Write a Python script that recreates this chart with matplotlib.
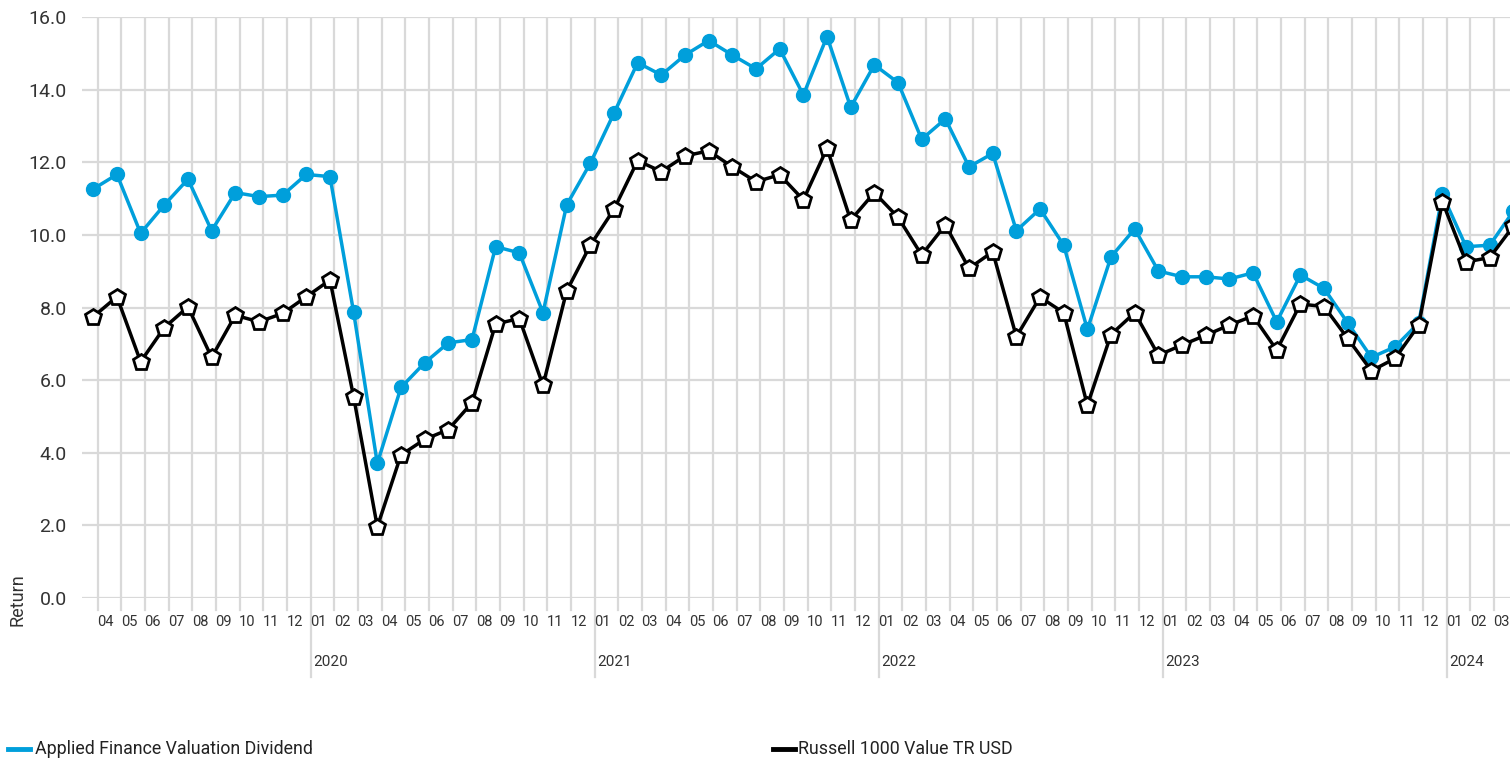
import numpy as np
import pandas as pd
import matplotlib
matplotlib.use("Agg")
import matplotlib.pyplot as plt
import matplotlib.transforms as mtransforms
from matplotlib.lines import Line2D

plt.rcParams['font.family'] = ['Liberation Sans Narrow', 'Roboto', 'DejaVu Sans']

# month-end dates, 2019-03 .. 2024-03
dates = pd.date_range("2019-03-31", "2024-03-31", freq="ME")

fund = [11.27, 11.67, 10.05, 10.83, 11.54, 10.12, 11.17, 11.06, 11.10, 11.67, 11.61,
        7.87, 3.71, 5.80, 6.48, 7.03, 7.12, 9.68, 9.51, 7.86, 10.83, 11.98, 13.36,
        14.75, 14.41, 14.96, 15.36, 14.96, 14.58, 15.13, 13.86, 15.47, 13.52, 14.69,
        14.20, 12.64, 13.20, 11.88, 12.25, 10.12, 10.72, 9.72, 7.40, 9.40, 10.17,
        9.01, 8.85, 8.85, 8.79, 8.96, 7.61, 8.90, 8.53, 7.58, 6.63, 6.92, 7.58,
        11.12, 9.68, 9.72, 10.66]
bench = [7.75, 8.30, 6.51, 7.45, 8.02, 6.63, 7.79, 7.61, 7.84, 8.30, 8.76,
         5.54, 1.96, 3.94, 4.37, 4.64, 5.38, 7.55, 7.70, 5.86, 8.46, 9.72, 10.71,
         12.05, 11.75, 12.18, 12.32, 11.88, 11.47, 11.66, 10.97, 12.39, 10.41, 11.17,
         10.49, 9.45, 10.28, 9.08, 9.54, 7.20, 8.29, 7.86, 5.31, 7.26, 7.86,
         6.69, 6.97, 7.24, 7.52, 7.77, 6.83, 8.10, 8.03, 7.15, 6.26, 6.60, 7.52,
         10.92, 9.26, 9.38, 10.25]

labels = ["Applied Finance Valuation Dividend", "Russell 1000 Value TR USD"]
blue = "#009fdb"
grid_c = "#d9d9d9"

W, H = 1510, 759
fig = plt.figure(figsize=(W / 100, H / 100), dpi=100)
ax_h = 598 - 17.3
ax = fig.add_axes([82 / W, (H - 598) / H, (W - 82) / W, ax_h / H])

# month bands: band k starts at x=k (k=0 -> 2019-04); a point sits just before its month end
x = np.arange(len(dates)) - 0.186
bands = dates[1:]  # months shown on axis

ax.set_xlim(-0.663, 59.67)
ax.set_ylim(0, 16)

trans = mtransforms.blended_transform_factory(ax.transData, ax.transAxes)
for k in range(len(bands)):
    ax.axvline(k, color=grid_c, lw=1.6, zorder=0)
    ext = 79 if bands[k].month == 1 else 12
    ax.plot([k, k], [0, -ext / ax_h], transform=trans, color=grid_c, lw=1.6,
            clip_on=False, zorder=0)
    ax.text(k + 0.32, -24 / ax_h, bands[k].strftime("%m"), transform=trans,
            ha="center", va="center", fontsize=10.5, color="#333333")
    if bands[k].month == 1:
        ax.text(k + 0.12, -64 / ax_h, str(bands[k].year), transform=trans,
                ha="left", va="center", fontsize=11, color="#333333")

for v in range(0, 17, 2):
    ax.axhline(v, color=grid_c, lw=1.6, zorder=0)

ax.plot(x, fund, color=blue, lw=2.5, marker="o", ms=10, mec=blue, mfc=blue, zorder=3)
ax.plot(x, bench, color="black", lw=2.5, marker="p", ms=12, mec="black", mfc="white",
        mew=2, zorder=4)

ax.set_xticks([])
ax.set_yticks(range(0, 17, 2))
ax.set_yticklabels([f"{v:.1f}" for v in range(0, 17, 2)], fontsize=14, color="#333333")
ax.tick_params(axis="y", length=0, pad=11)
for s in ax.spines.values():
    s.set_visible(False)

fig.text(18 / W, (H - 600) / H, "Return", rotation=90, ha="center", va="center",
         fontsize=13, color="#333333")

# legend along the bottom
ly = (H - 749) / H
fig.add_artist(Line2D([8 / W, 30 / W], [ly, ly], color=blue, lw=3.5))
fig.text(35 / W, ly, labels[0], ha="left", va="center", fontsize=12.8, color="#222222")
fig.add_artist(Line2D([773 / W, 795 / W], [ly, ly], color="black", lw=3.5))
fig.text(798 / W, ly, labels[1], ha="left", va="center", fontsize=12.8, color="#222222")

fig.savefig("out.png", dpi=100)
